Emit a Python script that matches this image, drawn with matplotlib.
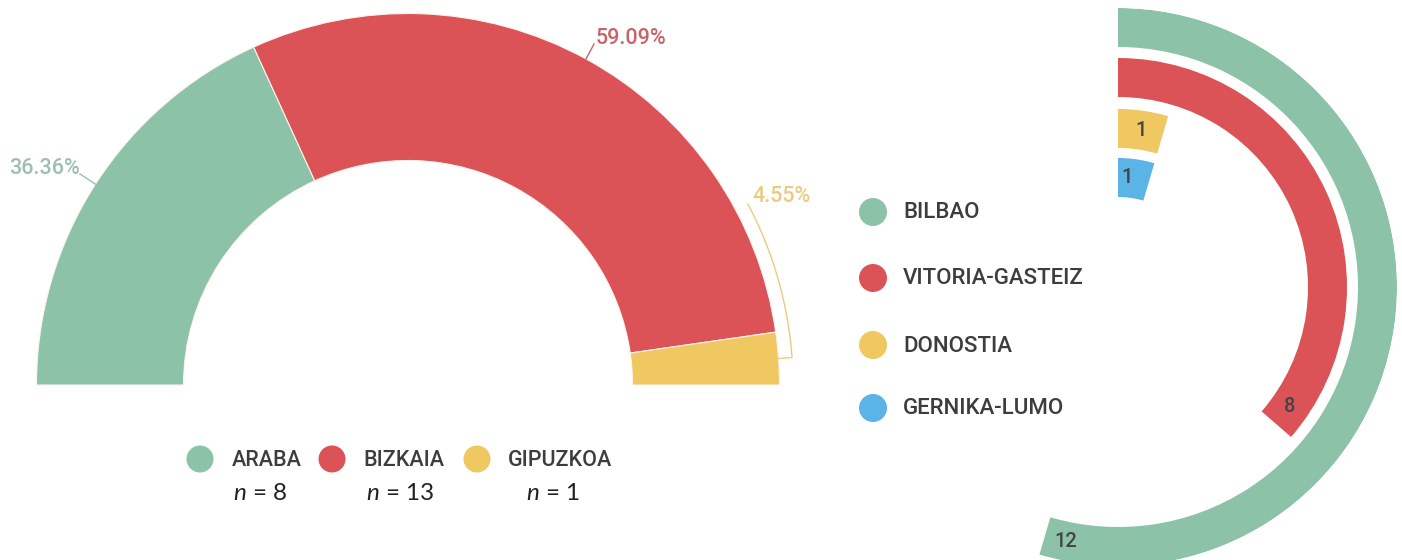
import matplotlib.pyplot as plt
import numpy as np
from matplotlib.patches import Circle

# data
provinces = ["ARABA", "BIZKAIA", "GIPUZKOA"]
province_n = [8, 13, 1]
province_colors = ["#8cc3a8", "#db5356", "#efc862"]
pct_colors = ["#9dbfaf", "#c9636b", "#ebcb80"]

cities = ["BILBAO", "VITORIA-GASTEIZ", "DONOSTIA", "GERNIKA-LUMO"]
city_n = [12, 8, 1, 1]
city_colors = ["#8cc3a8", "#db5356", "#efc862", "#5ab4e5"]

total = sum(province_n)
W, H = 1402, 560

plt.rcParams["font.family"] = ["Roboto", "DejaVu Sans"]
plt.rcParams["mathtext.fontset"] = "custom"
plt.rcParams["mathtext.it"] = "Lato:italic"
plt.rcParams["mathtext.rm"] = "Lato"

fig = plt.figure(figsize=(W / 100, H / 100), dpi=100)


def px_axes(cx, cy, r, **kw):
    return fig.add_axes([(cx - r) / W, 1 - (cy + r) / H, 2 * r / W, 2 * r / H], **kw)


# ---- left: half donut
cx, cy, R, r_in = 408, 385, 371.5, 224.5
ax = px_axes(cx, cy, R)
wedges, _ = ax.pie(province_n + [total], colors=province_colors + ["white"],
                   startangle=180, counterclock=False, radius=1,
                   wedgeprops=dict(width=1 - r_in / R, edgecolor="#fdf3ee", linewidth=0.8))
wedges[-1].set_visible(False)
ax.set_xlim(-1, 1)
ax.set_ylim(-1, 1)
ax.axis("off")

# ---- right: radial bars
pcx, pcy, PR = 1118, 287, 279
axp = px_axes(pcx, pcy, PR, projection="polar")
axp.set_theta_zero_location("N")
axp.set_theta_direction(-1)
band_outer = [279, 229, 178, 129]
band_w = 39
for i, v in enumerate(city_n):
    width = v / total * 2 * np.pi
    axp.bar(0, band_w, width=width, bottom=band_outer[i] - band_w, align="edge",
            color=city_colors[i], linewidth=0)
    r_mid = band_outer[i] - band_w / 2
    axp.text(width - 22 / r_mid, r_mid, str(v), ha="center", va="center",
             fontsize=14.5, fontweight="medium", color="#444444")
axp.set_ylim(0, PR)
axp.axis("off")

# ---- overlay in pixel coords
ov = fig.add_axes([0, 0, 1, 1])
ov.set_xlim(0, W)
ov.set_ylim(H, 0)
ov.axis("off")
ov.patch.set_visible(False)

# percentage labels with leaders
cum = np.cumsum([0] + province_n)
pct = [v / total * 100 for v in province_n]
mids = [np.pi * (1 - (cum[i] + province_n[i] / 2) / total) for i in range(3)]
anch = [(cx + R * np.cos(t), cy - R * np.sin(t)) for t in mids]

ov.plot([80, anch[0][0]], [174, anch[0][1]], color=pct_colors[0], lw=1)
ov.text(80, 168, f"{pct[0]:.2f}%", ha="right", va="center", fontsize=15.5,
        fontweight="medium", color=pct_colors[0])

ov.plot([594, anch[1][0]], [44, anch[1][1]], color=pct_colors[1], lw=1)
ov.text(596, 38, f"{pct[1]:.2f}%", ha="left", va="center", fontsize=15.5,
        fontweight="medium", color=pct_colors[1])

R2 = 385
t_end = np.radians(28)
ts = np.linspace(mids[2], t_end, 40)
xs = [cx + R * np.cos(mids[2])] + list(cx + R2 * np.cos(ts))
ys = [cy - R * np.sin(mids[2])] + list(cy - R2 * np.sin(ts))
ov.plot(xs, ys, color=pct_colors[2], lw=1)
ov.text(752, 196, f"{pct[2]:.2f}%", ha="left", va="center", fontsize=15.5,
        fontweight="medium", color=pct_colors[2])

# left legend
leg_cx = [200, 332, 477]
leg_tx = [232, 363, 508]
n_cx = [260, 400, 553]
for i in range(3):
    ov.add_patch(Circle((leg_cx[i], 459), 13.5, color=province_colors[i], lw=0))
    ov.text(leg_tx[i], 460, provinces[i], ha="left", va="center", fontsize=15.5,
            fontweight="medium", color="#3d3d3d")
    ov.text(n_cx[i], 494, f"$n$ = {province_n[i]}", ha="center", va="center",
            fontsize=17.5, color="#222222", family="Lato")

# right legend
for i, name in enumerate(cities):
    y = [212, 278, 345, 408][i]
    ov.add_patch(Circle((873, y), 14, color=city_colors[i], lw=0))
    ov.text(903, y + 1, name, ha="left", va="center", fontsize=16,
            fontweight="medium", color="#3d3d3d")

fig.savefig("out.png", dpi=100, facecolor="white")
